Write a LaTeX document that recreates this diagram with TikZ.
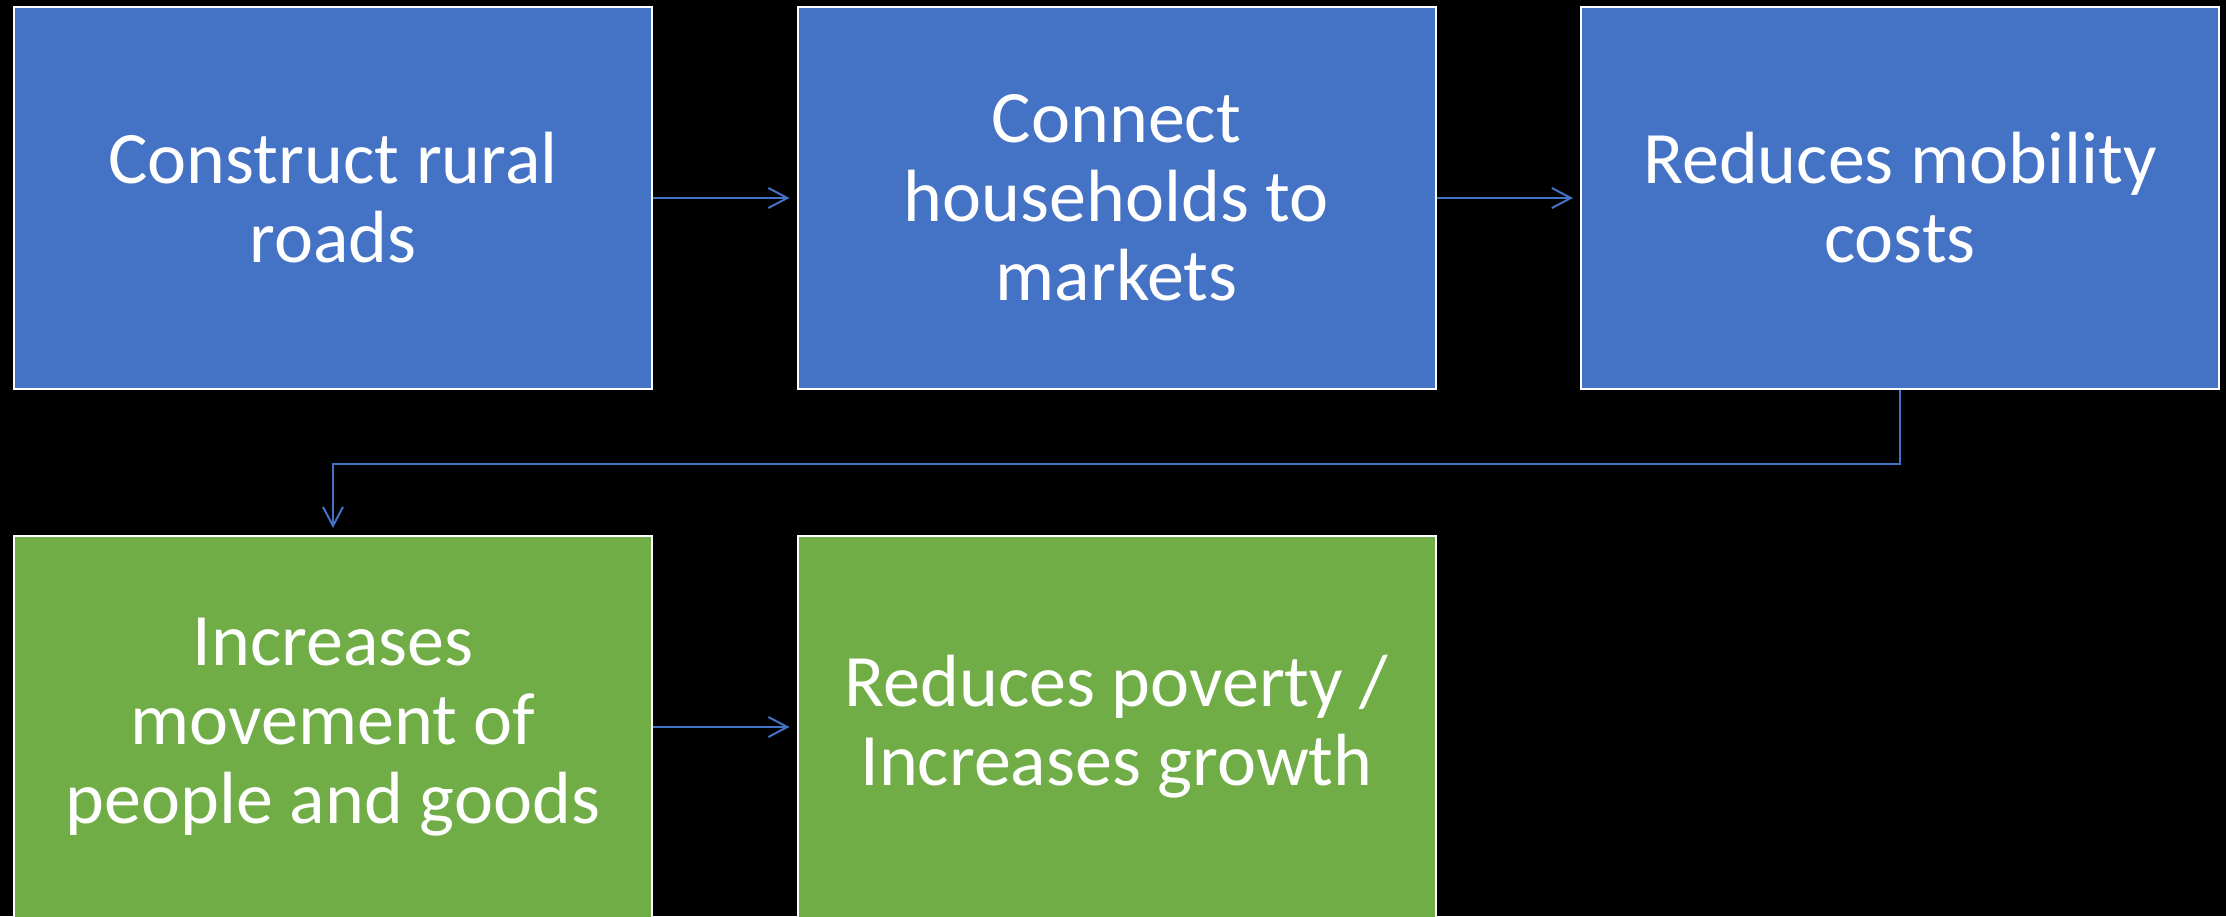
\documentclass[tikz,border=0pt]{standalone}
\usepackage{fontspec}
\setmainfont{Carlito}
\usetikzlibrary{arrows.meta}
\definecolor{roadblue}{HTML}{4472C4}
\definecolor{growgreen}{HTML}{70AD47}
\begin{document}
\begin{tikzpicture}[x=0.5pt,y=-0.5pt]
\def\boxw{319pt}
\def\boxh{191pt}
\tikzset{base/.style={draw=white,line width=1pt,text=white,align=center,inner sep=0pt,
  minimum width=\boxw,minimum height=\boxh,font=\fontsize{37}{39.5}\selectfont},
cause/.style={base,fill=roadblue},
effect/.style={base,fill=growgreen},
link/.style={draw=roadblue,line width=1pt,-{Straight Barb[length=9.5pt,width=10pt]},shorten >=3.5pt}}
\fill[black] (0,0) rectangle (2226,916);
\useasboundingbox (0,0) rectangle (2226,916);
\node[cause] at (333,198) (ROAD) {Construct rural\\ roads};
\node[cause] at (1116.5,198) (MKT) {Connect\\ households to\\ markets};
\node[cause] at (1900,198) (COST) {Reduces mobility\\ costs};
\node[effect] at (333,727) (MOVE) {Increases\\ movement of\\ people and goods};
\node[effect] at (1116.5,727) (POOR) {Reduces poverty /\\ Increases growth};
\path[link] (ROAD) -- (MKT);
\path[link] (MKT) -- (COST);
\path[link] (COST.south) -- ++(0,74) -| (MOVE.north);
\path[link] (MOVE) -- (POOR);
\end{tikzpicture}
\end{document}
